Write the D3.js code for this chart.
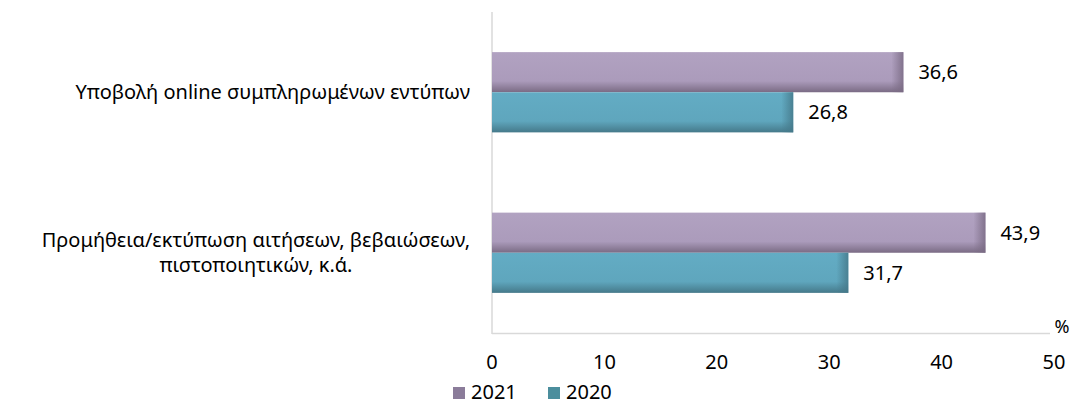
<!DOCTYPE html>
<html><head><meta charset="utf-8">
<script src="https://cdn.jsdelivr.net/npm/d3@7"></script>
<style>body{margin:0;background:#fff}svg{display:block}text{font-family:"Noto Sans","Open Sans",sans-serif;fill:#000}</style>
</head><body><svg id="c" width="1077" height="405"></svg>
<script>
const categories = [["Υποβολή online συμπληρωμένων εντύπων"], ["Προμήθεια/εκτύπωση αιτήσεων, βεβαιώσεων,", "πιστοποιητικών, κ.ά."]];
const series = ["2021", "2020"];
const values2021 = [36.6, 43.9];
const values2020 = [26.8, 31.7];
const xTicks = [0, 10, 20, 30, 40, 50];

const FS = "20px";
const svg = d3.select("#c");
const x = d3.scaleLinear().domain([0, 50]).range([492, 1054]);
const y = d3.scaleBand().domain(d3.range(categories.length)).range([12, 333]).paddingInner(0).paddingOuter(0);
const sub = d3.scaleBand().domain(series).range([0, y.bandwidth()]).paddingInner(0).paddingOuter(1);

const colors = {"2021": {top: "#b1a2c1", mid: "#ab9bbb", bot: "#7a6b84", leg: "#8b7c9a"},
                "2020": {top: "#63acc4", mid: "#5fa6bd", bot: "#45798a", leg: "#4b8e9d"}};
const defs = svg.append("defs");
series.forEach(s => {
  const g = defs.append("linearGradient").attr("id", "v" + s).attr("x1", 0).attr("y1", 0).attr("x2", 0).attr("y2", 1);
  g.append("stop").attr("offset", "0").attr("stop-color", colors[s].top);
  g.append("stop").attr("offset", "0.72").attr("stop-color", colors[s].mid);
  g.append("stop").attr("offset", "1").attr("stop-color", colors[s].bot);
  const h = defs.append("linearGradient").attr("id", "h" + s).attr("x1", 0).attr("y1", 0).attr("x2", 1).attr("y2", 0);
  h.append("stop").attr("offset", "0").attr("stop-color", colors[s].bot).attr("stop-opacity", 0);
  h.append("stop").attr("offset", "1").attr("stop-color", colors[s].bot).attr("stop-opacity", 0.85);
});

// axes lines
svg.append("line").attr("x1", x(0)).attr("x2", x(0)).attr("y1", 12).attr("y2", 334).attr("stroke", "#d9d9d9").attr("stroke-width", 1.5);
svg.append("line").attr("x1", x(0)).attr("x2", x(50) - 4).attr("y1", 333.5).attr("y2", 333.5).attr("stroke", "#d9d9d9").attr("stroke-width", 1.5);
svg.append("text").attr("x", 1062).attr("y", 333).attr("text-anchor", "middle").style("font-size", "18px").text("%");

const data = series.map(s => ({s, vals: s === "2021" ? values2021 : values2020}));
data.forEach(d => {
  d.vals.forEach((v, i) => {
    const yy = y(i) + sub(d.s), hh = sub.bandwidth();
    svg.append("rect").attr("x", x(0)).attr("y", yy).attr("width", x(v) - x(0)).attr("height", hh).attr("fill", `url(#v${d.s})`);
    svg.append("rect").attr("x", x(v) - 12).attr("y", yy).attr("width", 12).attr("height", hh).attr("fill", `url(#h${d.s})`);
    svg.append("text").attr("x", x(v) + 15).attr("y", yy + hh / 2 + 7).style("font-size", FS)
      .text(String(v).replace(".", ","));
  });
});

// category labels
categories.forEach((lines, i) => {
  const cy = y(i) + y.bandwidth() / 2;
  const lh = 25;
  const t0 = svg.append("text").attr("x", 470).attr("text-anchor", "end").style("font-size", FS)
    .attr("y", cy + 7 - (lines.length - 1) * lh / 2).text(lines[0]);
  const w0 = t0.node().getComputedTextLength();
  for (let k = 1; k < lines.length; k++) {
    svg.append("text").attr("x", 470 - w0 / 2).attr("text-anchor", "middle").style("font-size", FS)
      .attr("y", cy + 7 - (lines.length - 1) * lh / 2 + k * lh).text(lines[k]);
  }
});

// x ticks
svg.selectAll(".xt").data(xTicks).enter().append("text").attr("class", "xt")
  .attr("x", d => x(d)).attr("y", 369).attr("text-anchor", "middle").style("font-size", FS).text(d => d);

// legend
const lx = [453, 548];
series.forEach((s, i) => {
  svg.append("rect").attr("x", lx[i]).attr("y", 387).attr("width", 12).attr("height", 12).attr("fill", colors[s].leg);
  svg.append("text").attr("x", lx[i] + 18).attr("y", 399).style("font-size", FS).text(s);
});
</script></body></html>
